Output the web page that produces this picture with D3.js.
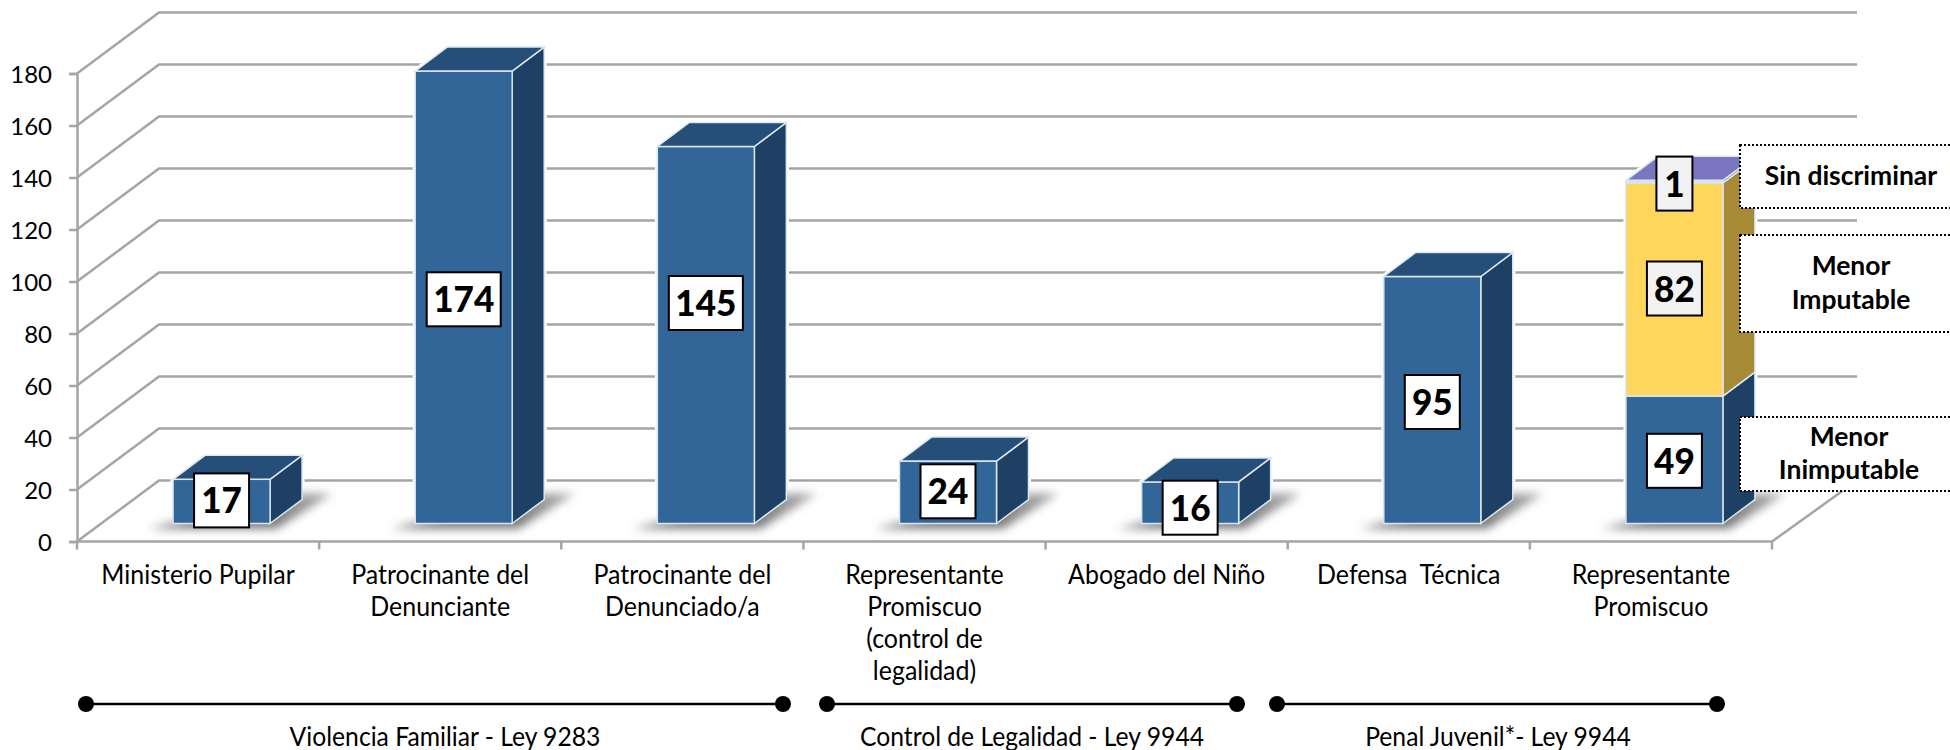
<!DOCTYPE html>
<html><head><meta charset="utf-8">
<style>html,body{margin:0;padding:0;background:#fff}svg{display:block}text{font-family:Lato,"Open Sans",sans-serif;fill:#000;white-space:pre}</style>
<script src="https://cdn.jsdelivr.net/npm/d3@7"></script></head><body>
<script>
// ---- data ----
const categories = ["Ministerio Pupilar","Patrocinante del|Denunciante","Patrocinante del|Denunciado/a","Representante|Promiscuo|(control de|legalidad)","Abogado del Niño","Defensa  Técnica","Representante|Promiscuo"];
const menorInimputable = [17,174,145,24,16,95,49];
const menorImputable   = [0,0,0,0,0,0,82];
const sinDiscriminar   = [0,0,0,0,0,0,1];
const yTicks = [0,20,40,60,80,100,120,140,160,180];
const groups = ["Violencia Familiar - Ley 9283","Control de Legalidad - Ley 9944","Penal Juvenil*- Ley 9944"];
const seriesNames = ["Menor|Inimputable","Menor|Imputable","Sin discriminar"];

// ---- layout ----
const W=1950,H=750;
const svg=d3.select("body").append("svg").attr("width",W).attr("height",H);
const defs=svg.append("defs");
defs.append("filter").attr("id","sh").attr("x","-40%").attr("y","-60%").attr("width","180%").attr("height","220%")
  .append("feGaussianBlur").attr("stdDeviation",5);
const grad=defs.append("linearGradient").attr("id","shg").attr("x1",0).attr("y1",1).attr("x2",0).attr("y2",0);
grad.append("stop").attr("offset",0).attr("stop-color","#6c6c6c");
grad.append("stop").attr("offset",1).attr("stop-color","#a8a8a8");
const floorY=541.5, tickStep=52, wallDx=82, wallDy=-61, gridEnd=1857;
const y0=d3.scaleLinear().domain([0,180]).range([floorY,floorY-9*tickStep]);
const unit=tickStep/20;
const x=d3.scaleBand().domain(d3.range(categories.length)).range([77,1772]);
const barW=97, barOff=23.5, baseY=523.5, dX=32, dY=-24;
const barH=v=>v*unit;
const GRID="#a5a5a5";
const txt=(g,s,px,py,size,weight,sx)=>g.append("text")
  .attr("transform",`translate(${px},${py}) scale(${sx},1)`)
  .attr("text-anchor","middle").attr("font-size",size).attr("font-weight",weight||400).text(s);

// walls
const grid=svg.append("g").attr("fill","none").attr("stroke",GRID).attr("stroke-width",2.5);
grid.selectAll("polyline").data(yTicks).join("polyline")
  .attr("points",d=>`${x.range()[0]},${y0(d)} ${x.range()[0]+wallDx},${y0(d)+wallDy} ${gridEnd},${y0(d)+wallDy}`);
grid.append("path").attr("d",`M${x.range()[1]},${floorY}L${gridEnd},${floorY+wallDy}`);

// y axis
const yAxis=svg.append("g").attr("transform",`translate(${x.range()[0]},0)`)
  .call(d3.axisLeft(y0).tickValues(yTicks).tickSize(8).tickPadding(17));
yAxis.selectAll("line,path").attr("stroke",GRID).attr("stroke-width",2.5);
yAxis.selectAll("text").attr("font-size",24).attr("font-family","Lato").attr("dy","0.36em");

// x axis
const axisG=svg.append("g").attr("stroke",GRID).attr("stroke-width",2.5);
axisG.append("line").attr("x1",x.range()[0]).attr("x2",x.range()[1]).attr("y1",floorY).attr("y2",floorY);
axisG.selectAll(".t").data(d3.range(categories.length+1)).join("line").attr("class","t")
  .attr("x1",d=>x.range()[0]+d*x.step()).attr("x2",d=>x.range()[0]+d*x.step()).attr("y1",floorY).attr("y2",floorY+8);

const catG=svg.append("g");
categories.forEach((c,i)=>c.split("|").forEach((l,j)=>
  txt(catG,l,x(i)+x.bandwidth()/2,584+j*32,26,400,0.96)));

// bars
const stackOrder=[menorInimputable,menorImputable,sinDiscriminar];
const fills=[{f:"#326598",t:"#254e78",s:"#1f4065"},{f:"#fed65b",t:"#c9a93f",s:"#a68a36"},{f:"#dcdcf2",t:"#7a76c0",s:"#5d5a96"}];
const halos=svg.append("g"), shadows=svg.append("g"), bars=svg.append("g");
categories.forEach((c,i)=>{
  const bx=x(i)+x.bandwidth()/2+barOff-barW/2;
  shadows.append("polygon").attr("fill","url(#shg)").attr("filter","url(#sh)")
    .attr("points",[[bx-24,baseY+5],[bx+barW+6,baseY+5],[bx+barW+dX+30,baseY-30],[bx+barW+dX,baseY-30]].join(" "));
  let acc=0; const segs=[];
  stackOrder.forEach((arr,k)=>{ if(arr[i]>0){segs.push({k,a:acc,b:acc+arr[i]});acc+=arr[i];}});
  const topY=baseY-barH(acc);
  halos.append("polygon").attr("fill","#fff").attr("stroke","#fff").attr("stroke-width",5)
    .attr("points",[[bx,baseY],[bx+barW,baseY],[bx+barW+dX,baseY+dY],[bx+barW+dX,topY+dY],[bx+dX,topY+dY],[bx,topY]].join(" "));
  segs.forEach((s,si)=>{
    const c=fills[s.k], yb=baseY-barH(s.a), yt=baseY-barH(s.b);
    bars.append("polygon").attr("fill",c.s).attr("stroke","#dce8f3").attr("stroke-width",1.5)
      .attr("points",[[bx+barW,yb],[bx+barW+dX,yb+dY],[bx+barW+dX,yt+dY],[bx+barW,yt]].join(" "));
    bars.append("rect").attr("x",bx).attr("y",yt).attr("width",barW).attr("height",yb-yt)
      .attr("fill",c.f).attr("stroke","#d6e4f1").attr("stroke-width",1.5);
    if(si===segs.length-1)
      bars.append("polygon").attr("fill",c.t).attr("stroke","#dce8f3").attr("stroke-width",1.5)
        .attr("points",[[bx,yt],[bx+barW,yt],[bx+barW+dX,yt+dY],[bx+dX,yt+dY]].join(" "));
  });
});

// side legend boxes
const legendRows=[{i:2,y1:145,y2:208,b:[185],cx:1851},{i:1,y1:235,y2:332,b:[275,309],cx:1851},{i:0,y1:417,y2:491,b:[446,479],cx:1849}];
const lg=svg.append("g");
legendRows.forEach(r=>{
  lg.append("rect").attr("x",1740).attr("y",r.y1).attr("width",W-1740+4).attr("height",r.y2-r.y1)
    .attr("fill","#fff").attr("stroke","#000").attr("stroke-width",2).attr("stroke-dasharray","2 2");
  seriesNames[r.i].split("|").forEach((l,j)=>txt(lg,l,r.cx,r.b[j],27,700,0.98));
});

// value labels (box centres: bar segment middle + hand-read nudge)
const labelNudge=[[-1,0,0],[2,0,0],[-32,0,0],[-1,0,0],[5,0,0],[2,0,0],[1,-1,2]];
const lab=svg.append("g");
categories.forEach((c,i)=>{
  const cx=x(i)+x.bandwidth()/2+barOff;
  let acc=0;
  stackOrder.forEach((arr,k)=>{
    const v=arr[i]; if(!v) return;
    const mid=baseY-barH(acc+v/2); acc+=v;
    const cy=mid+labelNudge[i][k];
    const s=String(v), w=s.length===1?36:s.length===2?55:74;
    lab.append("rect").attr("x",cx-w/2).attr("y",cy-27).attr("width",w).attr("height",54)
      .attr("fill",k===0?"#fff":"#f2f2f2").attr("stroke","#000").attr("stroke-width",2);
    txt(lab,s,cx,cy+13,37,900,0.95);
  });
});

// group brackets
const br=svg.append("g");
const bracketX=[[86,783],[827,1237],[1277,1717]], bracketLabelX=[445,1032,1498];
groups.forEach((g,i)=>{
  const [a,b]=bracketX[i];
  br.append("line").attr("x1",a).attr("x2",b).attr("y1",704).attr("y2",704).attr("stroke","#000").attr("stroke-width",2.5);
  [a,b].forEach(p=>br.append("circle").attr("cx",p).attr("cy",704).attr("r",8).attr("fill","#000"));
  txt(br,g,bracketLabelX[i],746,26,400,0.95);
});
</script></body></html>
